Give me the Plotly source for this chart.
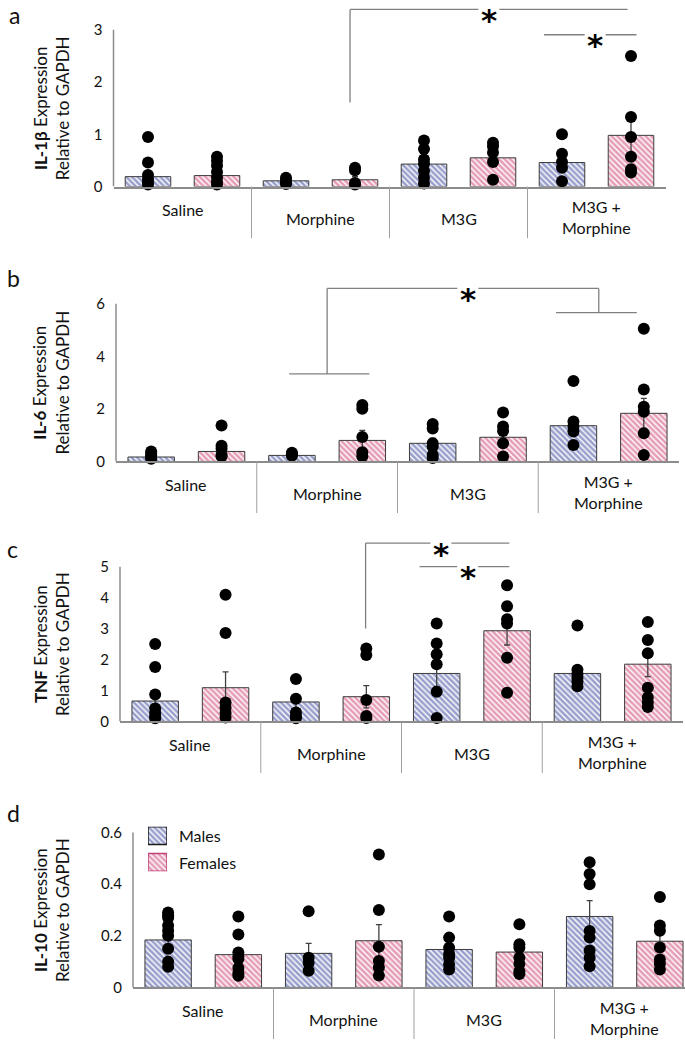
import plotly.graph_objects as go

FIG_W, FIG_H = 685, 1050
FONT = "Lato"

# ---------------- data ----------------
categories = ["Saline", "Morphine", "M3G", "M3G +<br>Morphine"]
sex_labels = ["Males", "Females"]
panel_letters = ["a", "b", "c", "d"]
panel_markers = ["IL-1β", "IL-6", "TNF", "IL-10"]
panel_ticks = [[0, 1, 2, 3], [0, 2, 4, 6], [0, 1, 2, 3, 4, 5], [0, 0.2, 0.4, 0.6]]

# a: IL-1beta
il1b_male_mean = [0.19, 0.11, 0.43, 0.46]
il1b_male_sem = [0.09, 0.03, 0.12, 0.13]
il1b_female_mean = [0.21, 0.13, 0.55, 0.98]
il1b_female_sem = [0.08, 0.06, 0.12, 0.35]
il1b_male_pts = [[0.95, 0.46, 0.22, 0.14, 0.08, 0.04],
                 [0.17, 0.12, 0.08, 0.05],
                 [0.88, 0.72, 0.52, 0.43, 0.30, 0.17, 0.06],
                 [1.00, 0.63, 0.47, 0.36, 0.10]]
il1b_female_pts = [[0.57, 0.49, 0.40, 0.28, 0.18, 0.09, 0.04],
                   [0.36, 0.31, 0.07, 0.04],
                   [0.84, 0.77, 0.65, 0.47, 0.13],
                   [2.50, 1.33, 0.95, 0.57, 0.33, 0.27]]

# b: IL-6
il6_male_mean = [0.17, 0.23, 0.69, 1.36]
il6_male_sem = [0.05, 0.03, 0.20, 0.26]
il6_female_mean = [0.38, 0.80, 0.92, 1.83]
il6_female_sem = [0.20, 0.38, 0.25, 0.57]
il6_male_pts = [[0.38, 0.30, 0.22, 0.15, 0.10],
                [0.33, 0.27, 0.22],
                [1.42, 1.25, 0.69, 0.57, 0.25, 0.13],
                [3.06, 1.52, 1.33, 1.14, 0.63]]
il6_female_pts = [[1.37, 0.60, 0.48, 0.25, 0.20],
                  [2.15, 2.00, 0.93, 0.35, 0.20],
                  [1.86, 1.33, 1.16, 0.69, 0.19],
                  [5.05, 2.74, 2.08, 1.89, 1.07, 0.25]]

# c: TNF
tnf_male_mean = [0.66, 0.63, 1.55, 1.55]
tnf_male_sem = [0.30, 0.20, 0.42, 0.23]
tnf_female_mean = [1.09, 0.80, 2.93, 1.85]
tnf_female_sem = [0.51, 0.36, 0.46, 0.40]
tnf_male_pts = [[2.50, 1.76, 0.87, 0.42, 0.27, 0.17, 0.10],
                [1.37, 0.73, 0.29, 0.18, 0.10],
                [3.16, 2.52, 2.17, 1.85, 0.96, 0.11],
                [3.10, 1.67, 1.53, 1.40, 1.30, 1.14]]
tnf_female_pts = [[4.09, 2.86, 0.61, 0.45, 0.27, 0.13],
                  [2.36, 2.15, 0.69, 0.18, 0.11],
                  [4.40, 3.72, 3.30, 3.16, 2.06, 0.93],
                  [3.21, 2.63, 2.20, 1.09, 0.77, 0.61, 0.47]]

# d: IL-10
il10_male_mean = [0.184, 0.132, 0.147, 0.275]
il10_male_sem = [0.020, 0.039, 0.020, 0.061]
il10_female_mean = [0.127, 0.181, 0.137, 0.179]
il10_female_sem = [0.025, 0.062, 0.020, 0.023]
il10_male_pts = [[0.29, 0.28, 0.27, 0.24, 0.22, 0.20, 0.15, 0.10, 0.08],
                 [0.295, 0.115, 0.095, 0.065],
                 [0.275, 0.193, 0.154, 0.130, 0.115, 0.089, 0.069],
                 [0.485, 0.44, 0.40, 0.219, 0.193, 0.143, 0.115, 0.082]]
il10_female_pts = [[0.275, 0.205, 0.135, 0.120, 0.110, 0.075, 0.055, 0.045],
                   [0.515, 0.30, 0.158, 0.102, 0.078, 0.046],
                   [0.245, 0.167, 0.154, 0.115, 0.091, 0.063, 0.052],
                   [0.35, 0.24, 0.22, 0.155, 0.108, 0.091, 0.069]]

# significance brackets (data units): polyline x, y and asterisk position
il1b_brackets = [dict(x=[1.214, 1.214, 3.225], y=[1.61, 3.39, 3.39], star=(2.22, 3.39)),
                 dict(x=[2.62, 3.29], y=[2.905, 2.905], star=(2.99, 2.905))]
il6_brackets = [dict(x=[0.73, 1.30], y=[3.33, 3.33], star=None),
                dict(x=[1.0, 1.0, 2.93, 2.93], y=[3.33, 6.58, 6.58, 5.66], star=(2.0, 6.58)),
                dict(x=[2.626, 3.2], y=[5.66, 5.66], star=None)]
tnf_brackets = [dict(x=[1.245, 1.245, 2.266], y=[3.0, 5.76, 5.76], star=(1.78, 5.76)),
                dict(x=[1.628, 2.266], y=[5.0, 5.0], star=(1.97, 5.0))]
il10_brackets = []

panels = [
    (il1b_male_mean, il1b_male_sem, il1b_male_pts, il1b_female_mean, il1b_female_sem, il1b_female_pts, il1b_brackets),
    (il6_male_mean, il6_male_sem, il6_male_pts, il6_female_mean, il6_female_sem, il6_female_pts, il6_brackets),
    (tnf_male_mean, tnf_male_sem, tnf_male_pts, tnf_female_mean, tnf_female_sem, tnf_female_pts, tnf_brackets),
    (il10_male_mean, il10_male_sem, il10_male_pts, il10_female_mean, il10_female_sem, il10_female_pts, il10_brackets),
]

# ---------------- geometry (pixels) ----------------
geometry = [
    dict(x0=113.5, x1=665.5, y0=188, ytop=30, dtop=0),
    dict(x0=116, x1=679, y0=465, ytop=306, dtop=280),
    dict(x0=120, x1=683, y0=727, ytop=571, dtop=540),
    dict(x0=133, x1=695, y0=995, ytop=839, dtop=815),
]
letter_pos = [(7, 15), (5, 280), (5, 553), (5, 819)]
label_offsets = [23, 32, 32, 31]

male_fg, female_fg = "#34429a", "#cc3c70"
edge = "#3c3c3c"
axis_grey = "#8c8c8c"
bracket_grey = "#808080"
BAR_OFF, BAR_W = 0.25, 0.33
STAR_GAP_PX = 10.5
STAR_SIZE = 31
HATCH = dict(shape="\\", bgcolor="white", size=4, solidity=0.65)

fig = go.Figure()
layout = dict(width=FIG_W, height=FIG_H, margin=dict(l=0, r=0, t=0, b=0),
              paper_bgcolor="white", plot_bgcolor="white", showlegend=False,
              font=dict(family=FONT, color="#111111"), barmode="overlay")
shapes, annotations = [], []


def py(px):
    return 1 - px / FIG_H


for n, (panel, g) in enumerate(zip(panels, geometry), start=1):
    mm, ms, mp, fm, fs, fp, brackets = panel
    xa = "x" if n == 1 else f"x{n}"
    ya = "y" if n == 1 else f"y{n}"
    ymax_tick = panel_ticks[n - 1][-1]
    per_unit = (g["y0"] - g["ytop"]) / ymax_tick
    yrange_top = (g["y0"] - g["dtop"]) / per_unit
    cat_px = (g["x1"] - g["x0"]) / 4
    if g["x1"] > FIG_W:
        xdom = [g["x0"] / FIG_W, 1]
        xr = [-0.5, -0.5 + (FIG_W - g["x0"]) / cat_px]
    else:
        xdom = [g["x0"] / FIG_W, g["x1"] / FIG_W]
        xr = [-0.5, 3.5]
    layout["xaxis" if n == 1 else f"xaxis{n}"] = dict(
        domain=xdom, range=xr, anchor=ya, showline=True, linecolor=axis_grey, linewidth=1.5,
        showticklabels=False, showgrid=False, zeroline=False, ticks="", fixedrange=True)
    layout["yaxis" if n == 1 else f"yaxis{n}"] = dict(
        domain=[py(g["y0"]), py(g["dtop"])], range=[0, yrange_top], anchor=xa,
        showline=False, showgrid=False, zeroline=False, ticks="",
        tickvals=panel_ticks[n - 1], ticklabelstandoff=10,
        tickfont=dict(size=15, family=FONT, color="#111111"), fixedrange=True)

    for s, (means, sems, pts, fg) in enumerate([(mm, ms, mp, male_fg), (fm, fs, fp, female_fg)]):
        off = -BAR_OFF if s == 0 else BAR_OFF
        xs = [i + off for i in range(len(categories))]
        fig.add_trace(go.Bar(
            x=xs, y=means, width=BAR_W, xaxis=xa, yaxis=ya, name=sex_labels[s],
            marker=dict(color="white", line=dict(color=edge, width=1), pattern=dict(HATCH, fgcolor=fg)),
            error_y=dict(type="data", array=sems, color="#404040", thickness=1.3, width=3),
            showlegend=False))
        px_, py_ = [], []
        for i, grp in enumerate(pts):
            px_ += [i + off] * len(grp)
            py_ += grp
        fig.add_trace(go.Scatter(x=px_, y=py_, mode="markers", xaxis=xa, yaxis=ya,
                                 marker=dict(color="black", size=12), showlegend=False, cliponaxis=False))

    shapes.append(dict(type="line", xref=f"{xa} domain", yref=ya, x0=0, x1=0, y0=0, y1=ymax_tick,
                       line=dict(color=axis_grey, width=1.5)))
    for i in range(len(categories) - 1):
        shapes.append(dict(type="line", xref=xa, yref="paper", x0=i + 0.5, x1=i + 0.5,
                           y0=py(g["y0"]), y1=py(g["y0"] + 52), line=dict(color="#a0a0a0", width=1)))
    for i, cat in enumerate(categories):
        annotations.append(dict(x=i, xref=xa, y=py(g["y0"] + label_offsets[i]), yref="paper",
                                text=cat, showarrow=False, xanchor="center", yanchor="middle",
                                font=dict(size=16, family=FONT, color="#111111")))
    annotations.append(dict(x=51 / FIG_W, xref="paper", y=py((g["y0"] + g["ytop"]) / 2), yref="paper",
                            text=f"<b>{panel_markers[n-1]}</b> Expression<br>Relative to GAPDH",
                            textangle=-90, showarrow=False, xanchor="center", yanchor="middle",
                            font=dict(size=17, family=FONT, color="#111111")))
    lx, ly = letter_pos[n - 1]
    annotations.append(dict(x=lx / FIG_W, xref="paper", y=py(ly), yref="paper", text=panel_letters[n - 1],
                            showarrow=False, xanchor="left", yanchor="middle",
                            font=dict(size=23, family=FONT, color="#111111")))

    # significance brackets, with a gap where the asterisk sits
    gap = STAR_GAP_PX / cat_px
    for b in brackets:
        pts_xy = list(zip(b["x"], b["y"]))
        segs = []
        for (xa0, ya0), (xa1, ya1) in zip(pts_xy[:-1], pts_xy[1:]):
            st = b["star"]
            if st is not None and ya0 == ya1 == st[1] and min(xa0, xa1) < st[0] < max(xa0, xa1):
                lo, hi = min(xa0, xa1), max(xa0, xa1)
                segs.append(((lo, ya0), (st[0] - gap, ya0)))
                segs.append(((st[0] + gap, ya0), (hi, ya0)))
            else:
                segs.append(((xa0, ya0), (xa1, ya1)))
        for (sx0, sy0), (sx1, sy1) in segs:
            shapes.append(dict(type="line", xref=xa, yref=ya, x0=sx0, y0=sy0, x1=sx1, y1=sy1,
                               line=dict(color=bracket_grey, width=1.3)))
        if b["star"] is not None:
            annotations.append(dict(x=b["star"][0], xref=xa, y=b["star"][1], yref=ya, text="<b>*</b>",
                                    showarrow=False, xanchor="center", yanchor="top", yshift=9.4,
                                    font=dict(size=STAR_SIZE, family="DejaVu Sans", color="black")))

# legend (inset axis with pattern swatches)
layout["xaxis5"] = dict(domain=[148 / FIG_W, 167 / FIG_W], range=[-0.5, 0.5], anchor="y5", visible=False, fixedrange=True)
layout["yaxis5"] = dict(domain=[py(878), py(833)], range=[0, 45], anchor="x5", visible=False, fixedrange=True)
for s, (fg, ln, base) in enumerate([(male_fg, "#1a1a1a", 27), (female_fg, "#c2407a", 0)]):
    fig.add_trace(go.Bar(x=[0], y=[18], base=[base], width=1, xaxis="x5", yaxis="y5", name=sex_labels[s],
                         marker=dict(color="white", line=dict(color=ln, width=1.5), pattern=dict(HATCH, fgcolor=fg)),
                         showlegend=False, cliponaxis=False))
    annotations.append(dict(x=177 / FIG_W, xref="paper", y=py(842 if s == 0 else 869), yref="paper",
                            text=sex_labels[s], showarrow=False, xanchor="left", yanchor="middle",
                            font=dict(size=16, family=FONT, color="#111111")))

layout["shapes"] = shapes
layout["annotations"] = annotations
fig.update_layout(**layout)
fig.write_html("out.html", config={"displayModeBar": False},
               post_script="document.body.style.margin='0';")
